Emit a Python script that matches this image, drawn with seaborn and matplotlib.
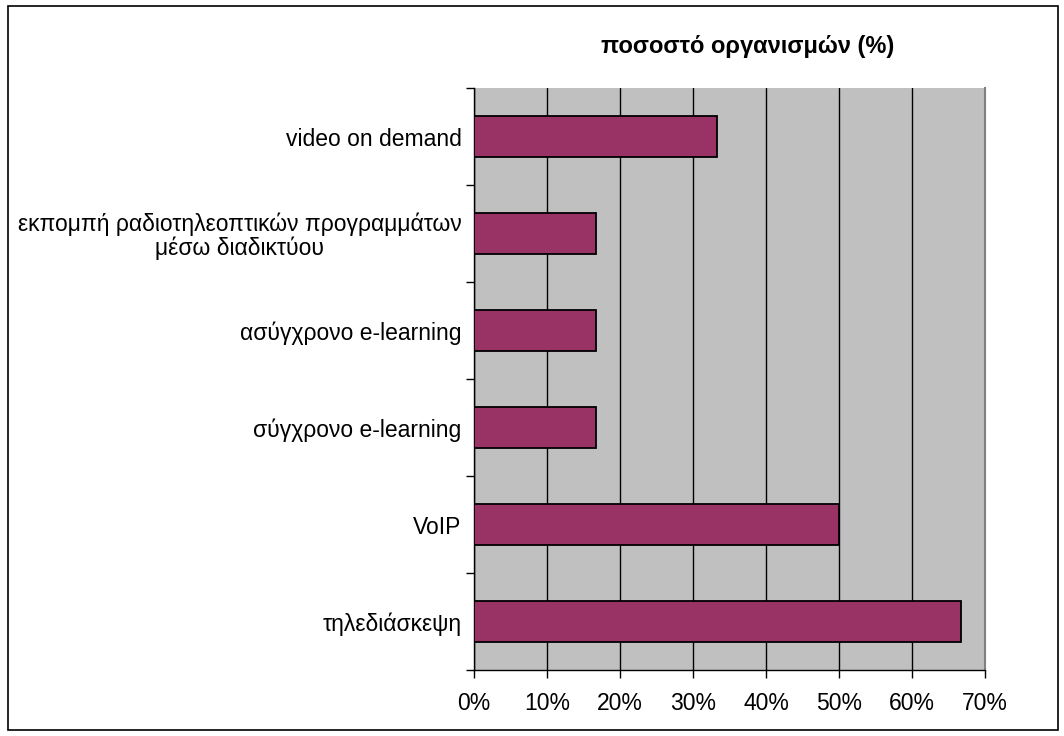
import matplotlib
matplotlib.use("Agg")
import matplotlib.pyplot as plt
import seaborn as sns
import pandas as pd
from matplotlib.patches import Rectangle
from matplotlib.ticker import FixedLocator

categories = ["video on demand",
              "εκπομπή ραδιοτηλεοπτικών προγραμμάτων\nμέσω διαδικτύου",
              "ασύγχρονο e-learning",
              "σύγχρονο e-learning",
              "VoIP",
              "τηλεδιάσκεψη"]
values = [33.33, 16.67, 16.67, 16.67, 50.0, 66.67]
xticks = [0, 10, 20, 30, 40, 50, 60, 70]
xticklabels = ["0%", "10%", "20%", "30%", "40%", "50%", "60%", "70%"]
title = "ποσοστό οργανισμών (%)"

sns.set_theme(style="white")
plt.rcParams['font.family'] = ['Liberation Sans', 'DejaVu Sans']
plt.rcParams['text.color'] = 'black'
plt.rcParams['xtick.color'] = 'black'
plt.rcParams['ytick.color'] = 'black'

df = pd.DataFrame({"cat": categories, "val": values})

fig = plt.figure(figsize=(10.64, 7.36), dpi=100)
ax = fig.add_axes([474/1064, 1-670/736, (985-474)/1064, (670-88)/736])
ax.set_facecolor("#C0C0C0")

sns.barplot(data=df, y="cat", x="val", order=categories, orient="h",
            color="#993366", saturation=1, width=0.42,
            edgecolor="black", linewidth=1.3, ax=ax, zorder=3)

fs = 16.5
ax.set_xlim(0, 70)
ax.set_ylim(5.5, -0.5)
ax.set_xticks(xticks)
ax.set_xticklabels(xticklabels, fontsize=fs)
ax.xaxis.grid(True, color="black", linewidth=1)
ax.set_axisbelow(True)
ax.set_xlabel("")
ax.set_ylabel("")
ax.set_yticks(range(len(categories)))
ax.set_yticklabels(categories, fontsize=fs, multialignment="center", linespacing=1.05)
ax.tick_params(axis="y", which="major", length=0, pad=9)
ax.yaxis.set_minor_locator(FixedLocator([i - 0.5 for i in range(len(categories) + 1)]))
ax.tick_params(axis="y", which="minor", length=6, color="black", width=1, direction="out", left=True)
ax.tick_params(axis="x", which="major", length=6, color="black", width=1, direction="out", bottom=True, pad=10)

for s in ["left", "bottom"]:
    ax.spines[s].set_color("black")
    ax.spines[s].set_linewidth(1)
ax.spines["top"].set_visible(False)
ax.spines["right"].set_color("#808080")
ax.spines["right"].set_linewidth(1.5)

fig.text(748/1064, 1-47/736, title, ha="center", va="center", fontsize=17, fontweight="bold")

fig.patches.append(Rectangle((8/1064, 6/736), 1050/1064, 724/736, transform=fig.transFigure,
                             fill=False, edgecolor="black", linewidth=1.2))

fig.savefig("out.png", dpi=100)
